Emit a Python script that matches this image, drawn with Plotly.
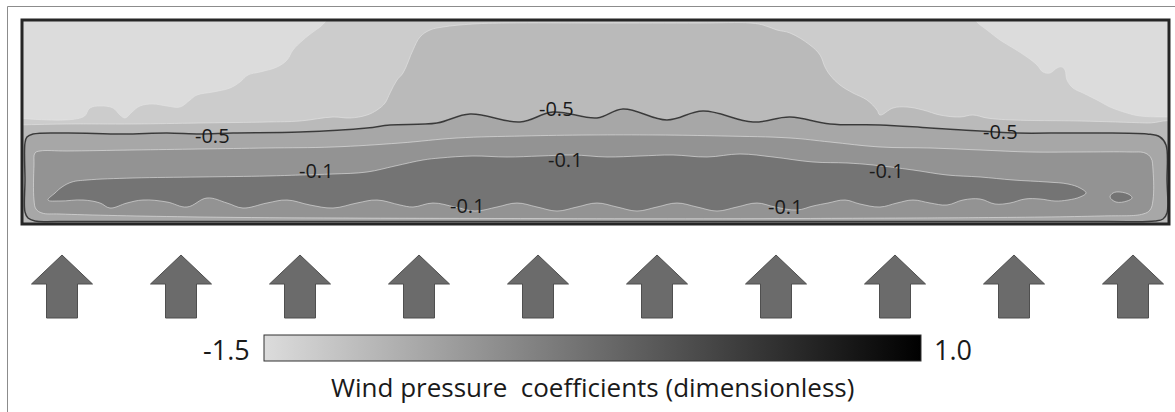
import plotly.graph_objects as go

# ---------------------------------------------------------------------------
# Wind pressure coefficient field on the facade, stored as digitised isolines.
# x: distance along the facade (m), y: height above the base (m)
# ---------------------------------------------------------------------------
FACADE_LEN = 114.7
FACADE_H = 20.4

levels = [-0.9, -0.7, -0.5, -0.3, -0.1]
cbar_min, cbar_max = -1.5, 1.0

# Cp = -0.9 isoline, left corner zone
iso_m09_left_x = [-0.5, 6.1, 6.8, 7.8, 9.1, 9.8, 10.3, 11.0, 11.8, 13.1, 14.5, 15.8, 16.8,
                  17.5, 19.1, 20.8, 21.8, 22.6, 23.8, 25.5, 26.5, 27.1, 28.1, 29.1, 29.8,
                  30.3, 30.5]
iso_m09_left_y = [10.6, 10.7, 11.6, 11.8, 11.6, 10.9, 10.6, 11.2, 11.8, 12.0, 11.8, 11.7, 12.4,
                  12.9, 13.2, 13.6, 14.2, 14.9, 15.2, 15.7, 16.4, 17.4, 18.4, 19.2, 19.7,
                  20.2, 20.6]

# Cp = -0.9 isoline, right corner zone
iso_m09_right_x = [95.3, 95.5, 96.5, 97.8, 99.1, 100.5, 101.5, 102.1, 102.8, 103.5, 104.0,
                   104.3, 104.5, 105.1, 106.1, 107.5, 108.8, 110.5, 111.8, 114.5, 115.5]
iso_m09_right_y = [20.6, 20.2, 19.4, 18.4, 17.6, 16.7, 15.9, 15.2, 15.1, 15.6, 15.7,
                   15.4, 14.4, 13.6, 13.1, 12.4, 11.7, 11.1, 10.8, 10.7, 10.7]

# Cp = -0.7 isoline (edge of the central plateau)
iso_m07_x = [-0.5, 4.5, 11.1, 17.8, 24.5, 27.8, 31.1, 32.8, 34.5, 35.5, 36.3, 36.8, 37.5,
             38.1, 39.1, 39.8, 40.8, 42.1, 45.1, 48.5, 57.8, 67.8, 72.8, 74.1, 75.5, 76.8,
             78.8, 79.8, 80.3, 80.8, 81.8, 83.1, 84.5, 85.5, 85.8, 87.1, 88.5, 90.1, 91.8,
             93.8, 95.1, 96.5, 99.1, 105.8, 112.5, 115.3]
iso_m07_y = [9.9, 10.0, 10.0, 10.1, 10.2, 10.3, 10.7, 10.6, 10.9, 11.4, 12.1, 13.1, 14.4,
             15.1, 17.4, 18.7, 19.4, 19.7, 20.0, 20.1, 20.1, 20.1, 20.1, 19.9, 19.4, 19.1,
             17.9, 16.9, 15.7, 14.9, 13.9, 13.1, 12.4, 11.4, 10.9, 11.6, 11.7, 11.4, 10.9,
             10.7, 10.9, 10.6, 10.4, 10.3, 10.1, 10.0]

# Cp = -0.5 isoline (closed loop)
iso_m05_x = [0.3, 0.5, 1.1, 4.5, 10.1, 14.5, 17.8, 21.1, 27.8, 34.5, 36.8, 41.5, 44.8, 49.8,
             53.1, 57.5, 60.1, 64.5, 68.1, 73.1, 76.8, 80.8, 85.8, 90.8, 95.8, 99.1, 105.8,
             112.5, 113.8, 114.4, 114.5, 114.5, 114.1, 113.3, 107.8, 57.8, 3.8, 1.3, 0.6,
             0.3, 0.3, 0.3]
iso_m05_y = [8.1, 8.7, 9.0, 9.1, 9.0, 9.1, 9.0, 9.1, 9.2, 9.6, 9.9, 10.1, 11.0, 10.2,
             11.2, 10.6, 11.5, 10.4, 11.3, 10.2, 10.7, 10.0, 9.9, 9.6, 9.3, 9.1, 9.1,
             9.0, 8.7, 7.9, 4.4, 1.1, 0.5, 0.3, 0.25, 0.25, 0.25, 0.3, 0.6,
             1.2, 4.4, 8.1]

# Cp = -0.3 isoline (closed loop)
iso_m03_x = [1.3, 1.8, 4.5, 11.1, 17.8, 24.5, 31.1, 37.8, 43.5, 50.1, 56.8, 63.5, 70.1, 76.8,
             80.8, 85.8, 90.8, 95.8, 100.8, 105.8, 110.8, 112.3, 112.9, 113.1, 113.1, 112.8,
             112.1, 107.8, 77.8, 47.8, 17.8, 3.8, 2.0, 1.4, 1.2, 1.2, 1.3]
iso_m03_y = [7.1, 7.3, 7.3, 7.4, 7.5, 7.6, 7.7, 8.1, 8.6, 8.8, 8.9, 8.9, 8.8, 8.6,
             8.2, 7.7, 7.6, 7.4, 7.2, 7.2, 7.2, 7.1, 6.6, 5.4, 2.4, 1.4,
             1.0, 0.8, 0.55, 0.55, 0.7, 1.0, 1.1, 1.5, 2.4, 5.9, 7.1]

# Cp = -0.1 isoline (closed loop around the core of the band)
iso_m01_x = [2.6, 3.3, 4.0, 5.0, 6.5, 11.1, 17.8, 24.5, 27.8, 31.1, 34.5, 37.3, 40.1, 41.8,
             45.1, 48.5, 51.8, 55.1, 58.5, 61.8, 65.1, 68.5, 71.8, 75.1, 79.1, 82.5, 85.1,
             89.1, 92.5, 95.8, 99.1, 102.5, 104.6, 105.8, 106.4,
             105.8, 104.6, 103.3, 101.8, 100.3, 98.8, 97.3, 95.8, 94.1, 92.5, 90.8, 89.1,
             87.5, 85.8, 83.8, 82.3, 80.6, 79.1, 77.5, 75.3, 73.5, 71.5, 69.5, 67.5, 65.5,
             63.5, 61.5, 59.5, 57.5, 55.5, 53.5, 51.5, 49.5, 47.5, 45.3, 43.3, 41.1, 39.1,
             37.8, 35.5, 33.5, 31.1, 28.8, 26.5, 24.5, 22.1, 20.5, 18.5, 16.5, 14.5, 12.1,
             10.5, 8.8, 7.8, 6.1, 3.8, 2.6]
iso_m01_y = [2.4, 3.1, 3.7, 4.2, 4.4, 4.6, 4.7, 4.8, 4.9, 5.0, 5.2, 5.8, 6.4, 6.6,
             6.8, 6.7, 6.8, 6.9, 6.7, 6.8, 6.9, 6.7, 7.0, 6.7, 6.2, 6.1, 5.9,
             5.4, 4.9, 4.7, 4.4, 4.2, 4.0, 3.6, 3.1,
             2.7, 2.4, 2.3, 2.5, 2.5, 2.1, 2.0, 2.5, 2.4, 1.9, 2.1, 2.4,
             2.1, 1.7, 2.0, 2.4, 2.1, 1.8, 1.4, 1.7, 2.1, 1.7, 1.3, 1.7, 2.1,
             1.7, 1.3, 1.7, 2.1, 1.7, 1.3, 1.7, 2.1, 1.7, 1.3, 1.7, 2.1, 1.7,
             1.9, 2.4, 2.1, 1.6, 1.9, 2.4, 2.1, 1.6, 2.1, 2.6, 1.7, 2.2, 2.4,
             2.1, 1.6, 2.1, 2.4, 2.3, 2.4]

# small Cp > -0.1 pocket near the right edge
iso_m01_pocket_x = [108.8, 109.1, 109.8, 110.8, 111.0, 110.5, 109.4, 108.8]
iso_m01_pocket_y = [2.7, 3.1, 3.2, 2.9, 2.6, 2.3, 2.2, 2.7]

# where each isoline value is written on the map
label_m05_x = [19.0, 53.4, 97.8]
label_m05_y = [8.9, 11.6, 9.3]
label_m01_x = [29.4, 54.3, 86.4, 44.5, 76.3]
label_m01_y = [5.4, 6.5, 5.4, 1.9, 1.8]

# incoming wind arrows along the facade
arrow_x = [4.0, 15.9, 27.8, 39.7, 51.6, 63.5, 75.4, 87.3, 99.2, 111.1]

# ---------------------------------------------------------------------------
# styling
# ---------------------------------------------------------------------------
band_colors = {
    "lt_m09": "#dcdcdc",
    "m09_m07": "#cccccc",
    "m07_m05": "#bababa",
    "m05_m03": "#a7a7a7",
    "m03_m01": "#939393",
    "gt_m01": "#747474",
}
edge_color = "rgba(228,228,228,0.6)"
gray_ramp = [[0.0, "#dcdcdc"], [1.0, "#000000"]]
FONT = "Open Sans"

W, H = 1175, 412
# plotting panel in pixels
PX_L, PX_R, PX_T, PX_B = 22, 1169, 20, 224


def band(xs, ys, color, line_color=edge_color, width=1.0):
    return go.Scatter(x=xs, y=ys, mode="lines", fill="toself", fillcolor=color,
                      line=dict(color=line_color, width=width, shape="spline", smoothing=1.1),
                      hoverinfo="skip", showlegend=False)


fig = go.Figure()

# Cp < -0.9 corner zones
fig.add_trace(band(iso_m09_left_x + [-0.5], iso_m09_left_y + [20.6], band_colors["lt_m09"]))
fig.add_trace(band(iso_m09_right_x + [115.5], iso_m09_right_y + [20.6], band_colors["lt_m09"]))
# -0.7 .. -0.5 plateau (everything below the -0.7 isoline)
fig.add_trace(band(iso_m07_x + [115.3, -0.5], iso_m07_y + [-0.5, -0.5], band_colors["m07_m05"]))
# -0.5 .. -0.3
fig.add_trace(band(iso_m05_x, iso_m05_y, band_colors["m05_m03"]))
# -0.3 .. -0.1
fig.add_trace(band(iso_m03_x, iso_m03_y, band_colors["m03_m01"]))
# > -0.1
fig.add_trace(band(iso_m01_x, iso_m01_y, band_colors["gt_m01"]))
fig.add_trace(band(iso_m01_pocket_x, iso_m01_pocket_y, band_colors["gt_m01"]))

# the -0.5 isoline drawn as a dark contour line
fig.add_trace(go.Scatter(x=iso_m05_x, y=iso_m05_y, mode="lines",
                         line=dict(color="#3a3a3a", width=1.5, shape="spline", smoothing=1.1),
                         hoverinfo="skip", showlegend=False))

# colour scale of the pressure coefficient
fig.add_trace(go.Scatter(
    x=[None, None], y=[None, None], mode="markers",
    marker=dict(color=[cbar_min, cbar_max], cmin=cbar_min, cmax=cbar_max,
                colorscale=gray_ramp, showscale=True,
                colorbar=dict(orientation="h", x=(264 + 921) / 2 / W, xanchor="center",
                              len=(921 - 264) / W, lenmode="fraction",
                              y=1 - 335 / H, yanchor="top", thickness=26,
                              xpad=0, ypad=0, outlinewidth=1, outlinecolor="#333333",
                              ticks="", showticklabels=False)),
    hoverinfo="skip", showlegend=False))

label_font = dict(family=FONT, size=20, color="#1a1a1a")
annotations = []
for lx, ly in zip(label_m05_x, label_m05_y):
    annotations.append(dict(x=lx, y=ly, xref="x", yref="y", text=f"{levels[2]:.1f}",
                            showarrow=False, font=label_font))
for lx, ly in zip(label_m01_x, label_m01_y):
    annotations.append(dict(x=lx, y=ly, xref="x", yref="y", text=f"{levels[4]:.1f}",
                            showarrow=False, font=label_font))

annotations += [
    dict(x=252 / W, y=1 - 349 / H, xref="paper", yref="paper", xanchor="right",
         yanchor="middle", text=f"{cbar_min:.1f}", showarrow=False,
         font=dict(family=FONT, size=27, color="#1a1a1a")),
    dict(x=932 / W, y=1 - 349 / H, xref="paper", yref="paper", xanchor="left",
         yanchor="middle", text=f"{cbar_max:.1f}", showarrow=False,
         font=dict(family=FONT, size=27, color="#1a1a1a")),
    dict(x=592 / W, y=1 - 387 / H, xref="paper", yref="paper", xanchor="center",
         yanchor="middle", text="Wind pressure  coefficients (dimensionless)",
         showarrow=False, font=dict(family=FONT, size=26, color="#1a1a1a")),
]

shapes = []
# wind arrows (x in facade metres, y in page fraction)
y_tail, y_neck, y_tip = 1 - 318 / H, 1 - 284 / H, 1 - 255 / H
shaft, head = 1.55, 3.05
for ax in arrow_x:
    path = (f"M {ax - shaft},{y_tail} L {ax - shaft},{y_neck} L {ax - head},{y_neck} "
            f"L {ax},{y_tip} L {ax + head},{y_neck} L {ax + shaft},{y_neck} "
            f"L {ax + shaft},{y_tail} Z")
    shapes.append(dict(type="path", xref="x", yref="paper", path=path,
                       fillcolor="#6b6b6b", line=dict(color="#4f4f4f", width=1)))

# panel frame
shapes.append(dict(type="rect", xref="x domain", yref="y domain", x0=0, x1=1, y0=0, y1=1,
                   line=dict(color="#262626", width=3), layer="above"))
# outer figure frame
shapes.append(dict(type="line", xref="paper", yref="paper", x0=7.5 / W, x1=1,
                   y0=1 - 6.5 / H, y1=1 - 6.5 / H, line=dict(color="#8c8c8c", width=1)))
shapes.append(dict(type="line", xref="paper", yref="paper", x0=7.5 / W, x1=7.5 / W,
                   y0=0, y1=1 - 6.5 / H, line=dict(color="#8c8c8c", width=1)))

fig.update_layout(
    width=W, height=H,
    margin=dict(l=0, r=0, t=0, b=0),
    paper_bgcolor="white",
    plot_bgcolor=band_colors["m09_m07"],
    xaxis=dict(domain=[PX_L / W, PX_R / W], range=[0, FACADE_LEN], visible=False,
               fixedrange=True),
    yaxis=dict(domain=[1 - PX_B / H, 1 - PX_T / H], range=[0, FACADE_H], visible=False,
               fixedrange=True),
    annotations=annotations,
    shapes=shapes,
    font=dict(family=FONT),
)

fig.write_html("out.html")
